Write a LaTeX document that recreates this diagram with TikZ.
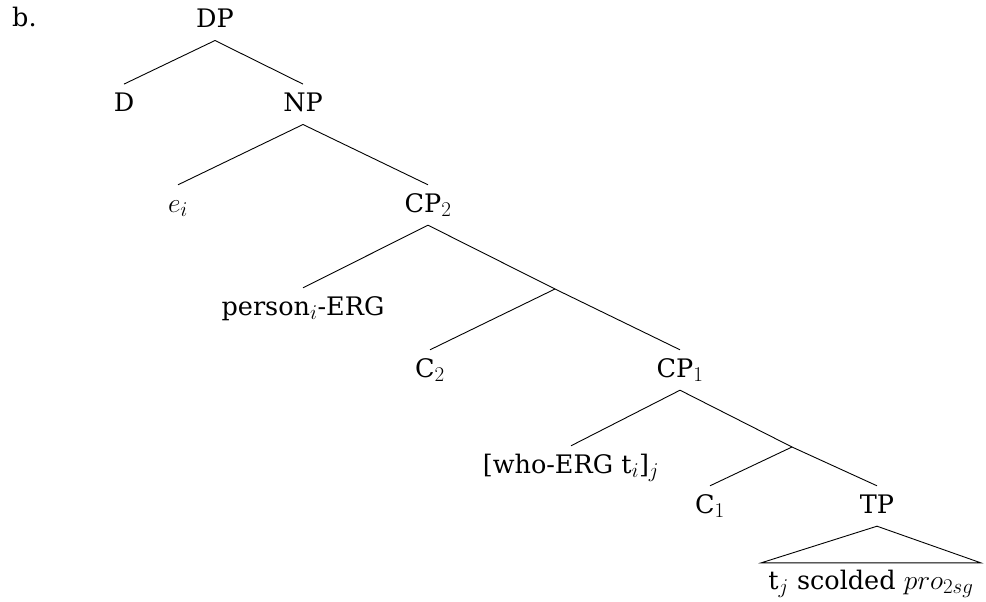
\RequirePackage{fix-cm}
\documentclass[tikz,border=0pt]{standalone}
\usepackage{fontspec}
\setmainfont{DejaVu Serif}
\DeclareMathSizes{25.5}{27.5}{21}{16}
\begin{document}
\fontsize{25.5}{30}\selectfont
\begin{tikzpicture}[x=1pt,y=-1pt,
  lbl/.style={inner xsep=0pt, inner ysep=9pt, text height=18pt, text depth=4pt, anchor=base},
  edge/.style={draw=black, line width=0.9pt}]
\useasboundingbox (0,0) rectangle (986,602);
\node[anchor=base west, inner sep=0pt] (lab) at (12,27) {b.};
\node[lbl] (DP) at (215,27.3) {DP};
\node[lbl] (D) at (124,111.3) {D};
\node[lbl] (NP) at (303,111.3) {NP};
\node[lbl] (ei) at (178,212) {$e_i$};
\node[lbl] (CP2) at (428,212) {CP$_2$};
\node[lbl] (person) at (303,315) {person$_i$-ERG};
\coordinate (X) at (555,289);
\node[lbl] (C2) at (430,377) {C$_2$};
\node[lbl] (CP1) at (680,377) {CP$_1$};
\node[lbl] (who) at (571,473) {[who-ERG t$_i$]$_j$};
\coordinate (Y) at (792,447);
\node[lbl] (C1) at (710,513) {C$_1$};
\node[lbl] (TP) at (877,513) {TP};
\node[anchor=base, inner xsep=7pt, inner ysep=7pt, text height=19pt, text depth=4pt] (bot) at (871,589) {t$_j$ scolded $pro_{2sg}$};
\draw[edge] (DP.south) -- (D.north);
\draw[edge] (DP.south) -- (NP.north);
\draw[edge] (NP.south) -- (ei.north);
\draw[edge] (NP.south) -- (CP2.north);
\draw[edge] (CP2.south) -- (person.north);
\draw[edge] (CP2.south) -- (X);
\draw[edge] (X) -- (C2.north);
\draw[edge] (X) -- (CP1.north);
\draw[edge] (CP1.south) -- (who.north);
\draw[edge] (CP1.south) -- (Y);
\draw[edge] (Y) -- (C1.north);
\draw[edge] (Y) -- (TP.north);
\draw[edge] (TP.south) -- (bot.north west) -- (bot.north east) -- cycle;
\end{tikzpicture}
\end{document}
